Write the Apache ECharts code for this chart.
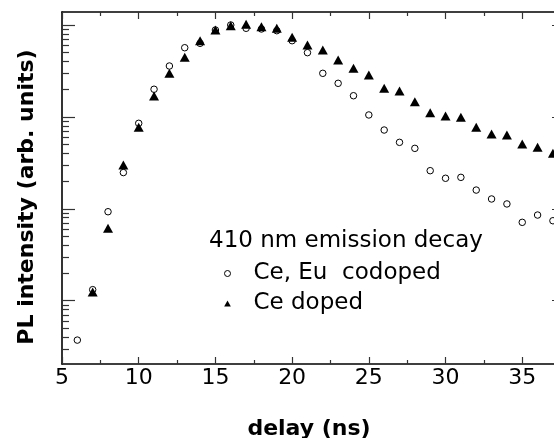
<!DOCTYPE html>
<html>
<head>
<meta charset="utf-8">
<script src="https://cdn.jsdelivr.net/npm/echarts@6/dist/echarts.min.js"></script>
<style>
  html, body { margin: 0; padding: 0; background: #fff; }
  #chart { width: 554px; height: 438px; }
</style>
</head>
<body>
<div id="chart"></div>
<script>
// Time-resolved PL of the 410 nm emission (normalised intensity vs delay)
const codopedDelay = [6, 7, 8, 9, 10, 11, 12, 13, 14, 15, 16, 17, 18, 19, 20, 21,
  22, 23, 24, 25, 26, 27, 28, 29, 30, 31, 32, 33, 34, 35, 36, 37];
const codopedIntensity = [3.73e-4, 1.32e-3, 9.3e-3, 0.0248, 0.0852, 0.200, 0.358, 0.566,
  0.632, 0.882, 1.0, 0.921, 0.905, 0.867, 0.675, 0.500, 0.298, 0.232, 0.170, 0.105,
  0.0720, 0.0529, 0.0455, 0.0260, 0.0215, 0.0220, 0.0160, 0.0128, 0.0113, 0.00713,
  0.00856, 0.00742];

const ceDopedDelay = [7, 8, 9, 10, 11, 12, 13, 14, 15, 16, 17, 18, 19, 20, 21, 22,
  23, 24, 25, 26, 27, 28, 29, 30, 31, 32, 33, 34, 35, 36, 37];
const ceDopedIntensity = [1.244e-3, 6.13e-3, 0.0300, 0.0770, 0.169, 0.298, 0.445, 0.675,
  0.882, 0.983, 1.018, 0.958, 0.921, 0.735, 0.606, 0.535, 0.416, 0.338, 0.286, 0.205,
  0.191, 0.146, 0.111, 0.102, 0.099, 0.077, 0.0652, 0.0635, 0.0507, 0.0467, 0.0402];

const seriesNames = ['Ce, Eu  codoped', 'Ce doped'];
const legendTitle = '410 nm emission decay';
const xTitle = 'delay (ns)';
const yTitle = 'PL intensity (arb. units)';

// x ticks
const xMajorTicks = [5, 10, 15, 20, 25, 30, 35];
const xMinorTicks = [7.5, 12.5, 17.5, 22.5, 27.5, 32.5];
// y (log) ticks: decades plus 2..9 in between
const yDecades = [1e-4, 1e-3, 1e-2, 1e-1, 1];
const yMinorFactors = [2, 3, 4, 5, 6, 7, 8, 9];

const X_MIN = 5, X_MAX = 37.2;
const Y_MIN = 2.05e-4, Y_MAX = 1.385;

const yMinorTicks = [];
yDecades.forEach(d => yMinorFactors.forEach(f => {
  const v = +(d * f).toPrecision(3);
  if (v > Y_MIN && v < Y_MAX) yMinorTicks.push(v);
}));
const yMajorTicks = yDecades.filter(v => v >= Y_MIN && v <= Y_MAX);

const FONT = '"DejaVu Sans", Arial, Helvetica, sans-serif';
const INK = '#000';
const TICK = '#333';

function pair(xs, ys) { return xs.map((x, i) => [x, ys[i]]); }

function xAxisCfg(pos, ticks, len, withLine, withLabels) {
  return {
    type: 'value', position: pos, min: X_MIN, max: X_MAX,
    axisLine: { show: withLine, onZero: false, lineStyle: { color: INK, width: 1.6 } },
    axisTick: { show: true, inside: true, length: len, customValues: ticks,
      lineStyle: { color: TICK, width: 1.2 } },
    axisLabel: withLabels
      ? { show: true, customValues: xMajorTicks, fontSize: 22, color: INK, fontFamily: FONT, margin: 3 }
      : { show: false },
    splitLine: { show: false }
  };
}
function yAxisCfg(pos, ticks, len, withLine) {
  return {
    type: 'log', logBase: 10, position: pos, min: Y_MIN, max: Y_MAX,
    axisLine: { show: withLine, onZero: false, lineStyle: { color: INK, width: 1.6 } },
    axisTick: { show: true, inside: true, length: len, customValues: ticks,
      lineStyle: { color: TICK, width: 1.2 } },
    axisLabel: { show: false },
    splitLine: { show: false }
  };
}

const chart = echarts.init(document.getElementById('chart'), null, { renderer: 'canvas' });
chart.setOption({
  animation: false,
  backgroundColor: '#fff',
  grid: { left: 62, right: -2, top: 12, bottom: 74, containLabel: false, outerBoundsMode: 'none' },
  xAxis: [
    Object.assign(xAxisCfg('bottom', xMajorTicks, 7, true, true), {
      name: xTitle, nameLocation: 'middle', nameGap: 54,
      nameTextStyle: { fontSize: 22, fontWeight: 'bold', color: INK, fontFamily: FONT }
    }),
    xAxisCfg('bottom', xMinorTicks, 4, false, false),
    xAxisCfg('top', xMajorTicks, 7, true, false),
    xAxisCfg('top', xMinorTicks, 4, false, false)
  ],
  yAxis: [
    yAxisCfg('left', yMinorTicks, 7, true),
    yAxisCfg('left', yMajorTicks, 13, false),
    yAxisCfg('right', yMajorTicks, 4, true)
  ],
  title: {
    text: legendTitle, left: 204, top: 225,
    textStyle: { fontSize: 23, fontWeight: 'normal', color: INK, fontFamily: FONT }
  },
  legend: {
    orient: 'vertical', left: 219, top: 257, itemWidth: 42, itemHeight: 6, itemGap: 7,
    data: [
      { name: seriesNames[0], icon: 'circle', itemStyle: { borderWidth: 1 } },
      { name: seriesNames[1], icon: 'path://M5,0 L10,9 L0,9 Z' }
    ],
    textStyle: { fontSize: 23, color: INK, fontFamily: FONT },
    selectedMode: false
  },
  graphic: [{
    type: 'text', x: 27, y: 197, rotation: Math.PI / 2,
    style: { text: yTitle, fill: INK, font: 'bold 22px ' + FONT,
      align: 'center', verticalAlign: 'middle', textAlign: 'center', textVerticalAlign: 'middle' }
  }],
  series: [
    {
      name: seriesNames[0], type: 'scatter', xAxisIndex: 0, yAxisIndex: 0,
      data: pair(codopedDelay, codopedIntensity),
      symbol: 'circle', symbolSize: 6.5,
      itemStyle: { color: '#fff', borderColor: INK, borderWidth: 1, opacity: 1 },
      z: 2
    },
    {
      name: seriesNames[1], type: 'scatter', xAxisIndex: 0, yAxisIndex: 0,
      data: pair(ceDopedDelay, ceDopedIntensity),
      symbol: 'triangle', symbolSize: [10, 9],
      itemStyle: { color: INK, opacity: 1 },
      z: 3
    }
  ]
});
</script>
</body>
</html>
